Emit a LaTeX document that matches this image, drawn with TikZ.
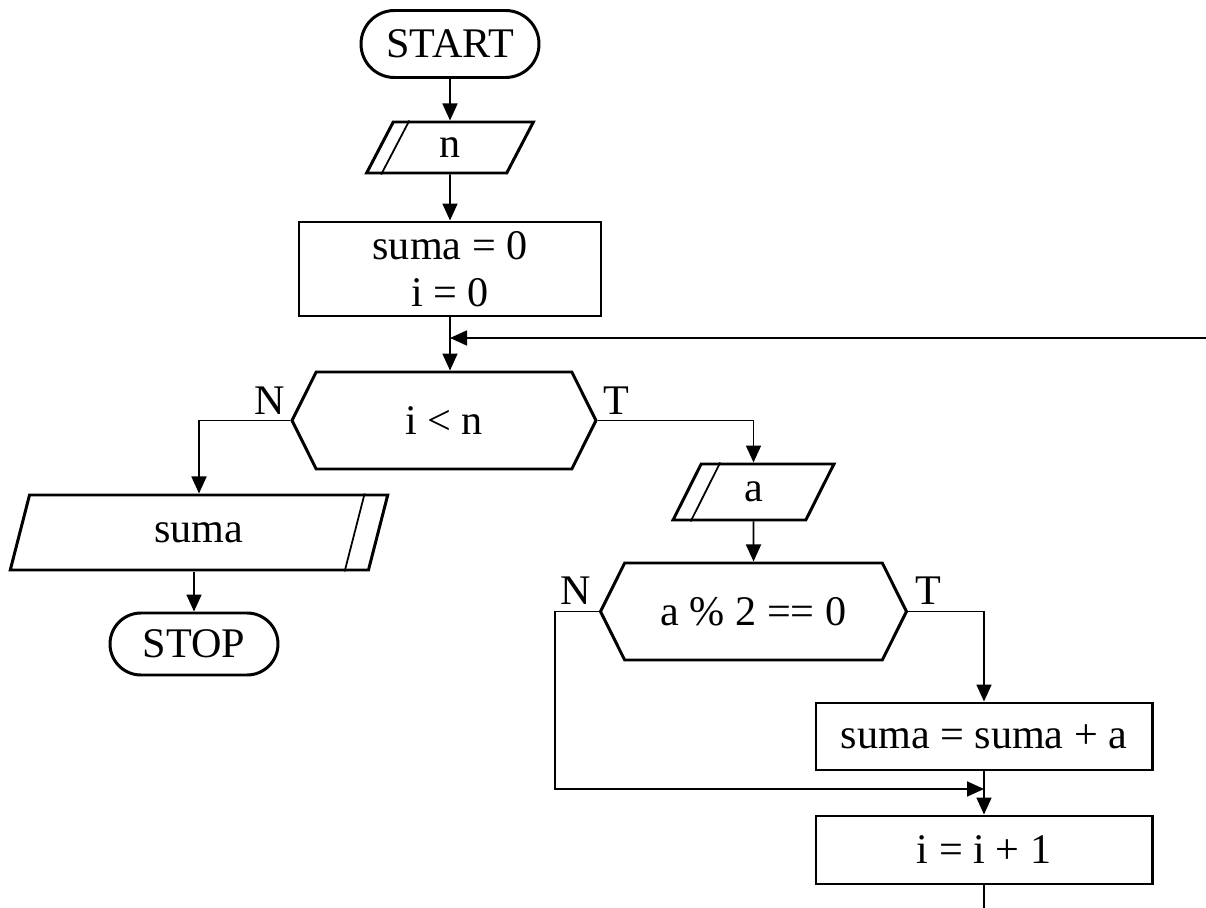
\documentclass[tikz,border=0pt]{standalone}
\usepackage{fontspec}
\setmainfont{Liberation Serif}
\usetikzlibrary{arrows.meta,calc,positioning,shapes.misc,shapes.symbols,shapes.geometric}

\begin{document}
\begin{tikzpicture}[
  font=\fontsize{24}{26.5}\selectfont,
  box/.style={draw,line width=1.7pt,inner sep=0pt},
  term/.style={box,rounded rectangle},
  io/.style={box,trapezium,trapezium left angle=76,trapezium right angle=104,trapezium stretches=true},
  proc/.style={box,rectangle,align=center},
  cond/.style={box,signal,signal to=west and east,signal pointer angle=127},
  flow/.style={line width=1pt,-{Triangle[length=0.34cm,width=0.3cm]}},
  wire/.style={line width=1pt}
]
\useasboundingbox (0,0) rectangle (24.12,-18.16);

\node[term,minimum width=3.56cm,minimum height=1.34cm] (start) at (9.0,-0.88) {START};
\node[io,minimum width=3.34cm,minimum height=1.02cm] (readn) at (9.0,-2.95) {n};
\node[proc,minimum width=6.04cm,minimum height=1.88cm] (init) at (9.0,-5.38) {suma = 0\\i = 0};
\node[cond,minimum width=6.08cm,minimum height=1.94cm] (test1) at (8.88,-8.41) {i < n};
\node[io,minimum width=7.56cm,minimum height=1.5cm] (print) at (3.98,-10.65) {suma};
\node[term,minimum width=3.36cm,minimum height=1.24cm] (stop) at (3.88,-12.88) {STOP};
\node[io,minimum width=3.22cm,minimum height=1.12cm] (reada) at (15.07,-9.84) {a};
\node[cond,minimum width=6.12cm,minimum height=1.94cm] (test2) at (15.07,-12.23) {a \% 2 == 0};
\node[proc,minimum width=6.72cm,minimum height=1.34cm] (add) at (19.68,-14.73) {suma = suma + a};
\node[proc,minimum width=6.72cm,minimum height=1.36cm] (incr) at (19.68,-17.0) {i = i + 1};

\draw[line width=1pt] ($(readn.top left corner)+(0.34,0)$) -- ($(readn.bottom left corner)+(0.34,0)$);
\draw[line width=1pt] ($(reada.top left corner)+(0.4,0)$) -- ($(reada.bottom left corner)+(0.4,0)$);
\draw[line width=1pt] ($(print.top right corner)+(-0.5,0)$) -- ($(print.bottom right corner)+(-0.5,0)$);

\node[anchor=south east,inner sep=3pt] (no1) at (test1.west) {N};
\node[anchor=south west,inner sep=3pt] (yes1) at (test1.east) {T};
\node[anchor=south east,inner sep=4pt] (no2) at (test2.west) {N};
\node[anchor=south west,inner sep=4pt] (yes2) at (test2.east) {T};

\coordinate (join) at ($(init.south |- 0,-6.76)$);
\coordinate (back) at (24.12,-6.76);
\coordinate (merge) at ($(add.south |- 0,-15.78)$);
\coordinate (down) at ($(incr.south |- 0,-18.16)$);

\draw[flow] (start) -- (readn);
\draw[flow] (readn) -- (init);
\draw[flow] (init.south) -- (init.south |- test1.north);
\draw[flow] (back) -- (join);
\draw[flow] (test1.west) -| (print.north);
\draw[flow] (stop.north |- print.south) -- (stop.north);
\draw[flow] (test1.east) -| (reada.north);
\draw[flow] (reada) -- (test2);
\draw[flow] (test2.east) -| (add.north);
\draw[flow] (test2.west) -- ++(-0.88,0) |- (merge);
\draw[flow] (add) -- (incr);
\draw[wire] (incr.south) -- (down);
\end{tikzpicture}
\end{document}
